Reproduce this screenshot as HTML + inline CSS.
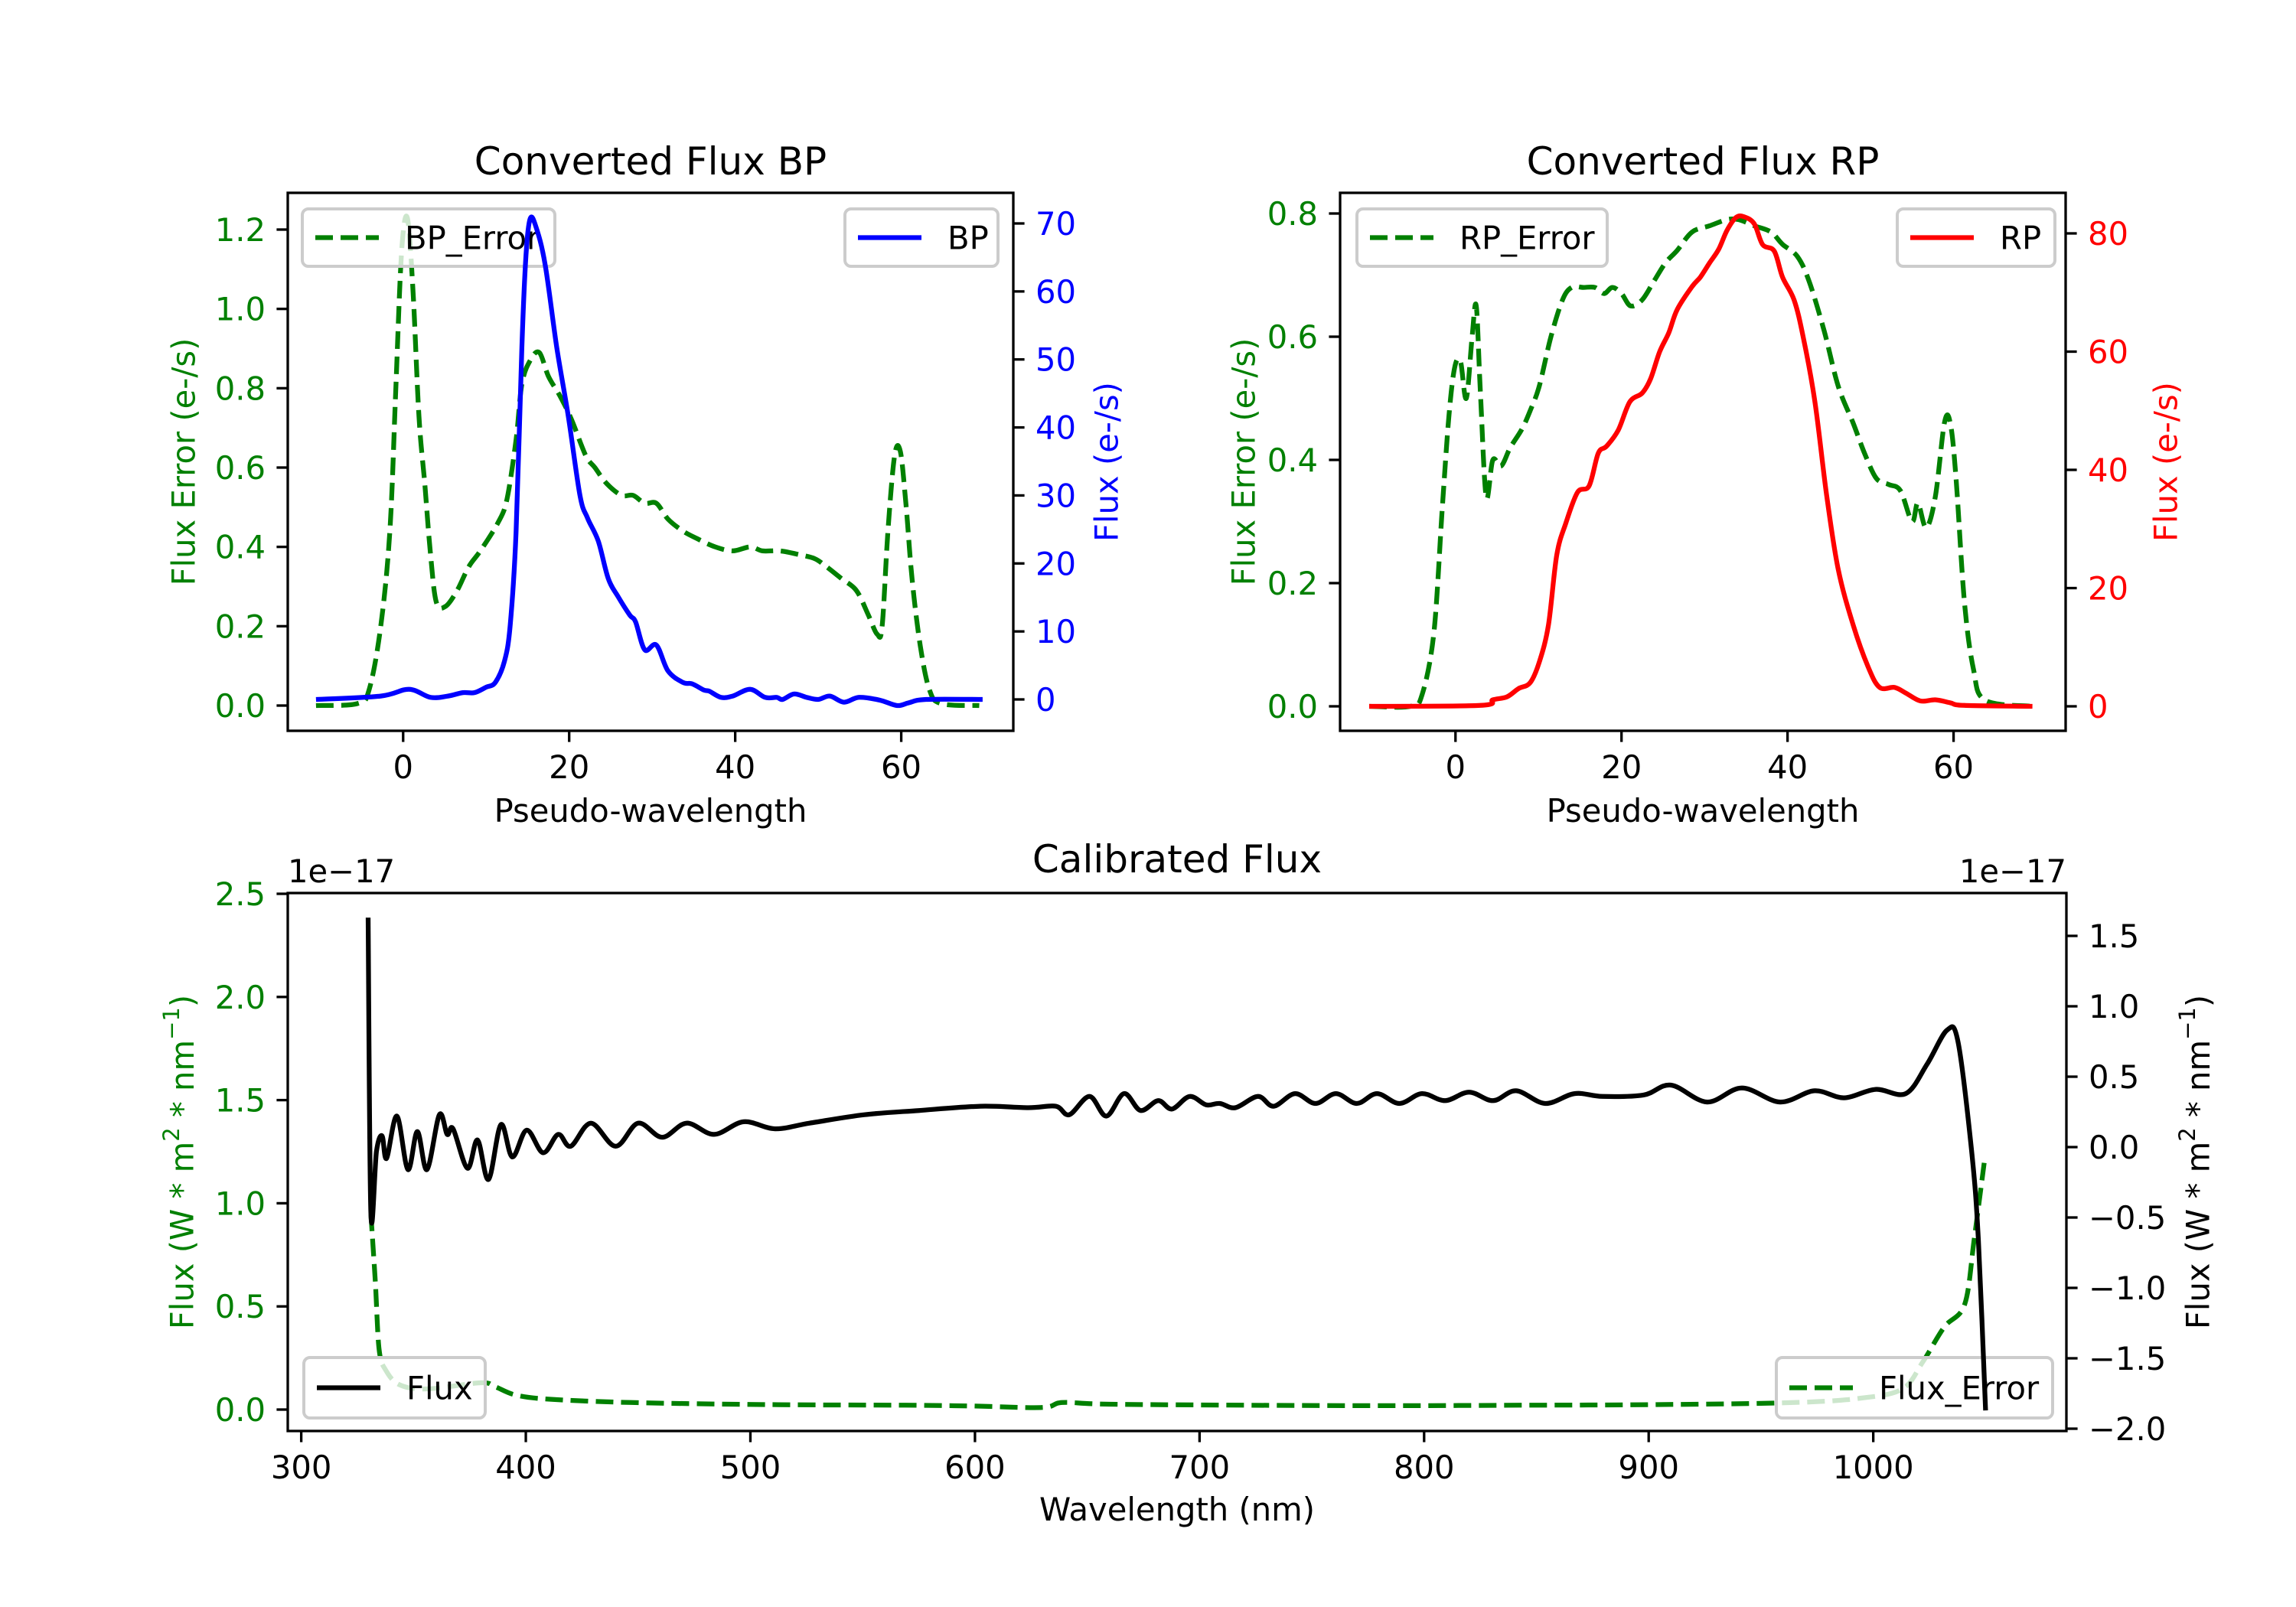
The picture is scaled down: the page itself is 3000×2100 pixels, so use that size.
<!DOCTYPE html>
<html><head><meta charset="utf-8"><style>
html,body{margin:0;padding:0;background:#fff;}
svg{display:block;font-family:"DejaVu Sans","Liberation Sans",sans-serif;}
</style></head><body>
<svg id="fig" width="3000" height="2100" viewBox="0 0 3000 2100" xmlns="http://www.w3.org/2000/svg">
<rect width="3000" height="2100" fill="#fff"/>
</svg>
<script>
// ---- BP data ----
const bpX = [-10.5,-2.7,0.7,3.3,5.4,7.2,8.6,10,11.1,12.2,12.9,13.6,14.3,14.8,15.3,16,17.1,18.5,19.9,21.3,22.2,23.5,24.7,25.9,27.3,28,29.1,30.5,31.9,33.7,34.8,36.2,36.9,38.3,39.7,41.8,43.6,45,45.7,47.1,48.6,50,51.4,53.1,54.9,57.4,59.5,60.9,63,69.8];
const bpFlux = [0,0.5,1.5,0.3,0.5,1,1,1.8,2.5,5.6,11,24.6,51.8,65.4,70.7,69.5,64,51.8,41.6,30,26.7,23.3,17.8,15.1,12.4,11.4,7.3,8,4.2,2.5,2.3,1.4,1.2,0.3,0.5,1.5,0.3,0.3,0,0.8,0.3,0,0.5,-0.4,0.3,-0.1,-0.9,-0.5,0,0];
const bpErrX = [-10.5,-5.5,-4.1,-2.7,-1.6,-0.9,-0.2,0.5,1.2,1.9,2.6,3.3,4,5.1,6.5,7.9,9.3,11.4,12.5,13.6,14.3,15.3,16.4,17.5,18.9,20.3,22,23.1,24.5,26.3,27.7,29.1,30.5,31.9,33.7,35.5,37.6,39.7,41.8,43.3,45.4,47.8,49.6,51,52.8,54.6,56,57.1,57.7,58.4,59.2,59.9,60.6,61.3,62.3,63.4,64.8,69.4];
const bpErr = [0,0.005,0.04,0.2,0.44,0.79,1.14,1.23,1.04,0.73,0.56,0.38,0.26,0.25,0.29,0.35,0.39,0.46,0.52,0.67,0.81,0.87,0.89,0.83,0.78,0.72,0.63,0.6,0.56,0.53,0.53,0.51,0.51,0.47,0.44,0.42,0.4,0.39,0.40,0.39,0.39,0.38,0.37,0.35,0.32,0.29,0.23,0.18,0.2,0.44,0.63,0.64,0.5,0.32,0.15,0.04,0.005,0];
// ---- RP data ----
const rpX = [-10.4,3,4.5,6.2,7.6,9,10.1,11.2,12.2,13.3,14.7,16.1,17.2,18.2,19.6,21,22.5,23.5,24.6,25.7,26.7,28.5,29.5,30.6,31.7,32.7,33.8,34.8,36,37,38.4,39.4,40.8,41.9,43.3,44.7,46.1,47.9,49.7,51.1,52.9,54.3,56,57.8,59.6,61.3,69.5];
const rpFlux = [0,0.15,1.1,1.6,3,4,7.5,13.8,25.6,31,36.2,37.3,42.8,44,46.7,51.5,53,55.4,60,63.2,67.1,71,72.6,75,77.3,80.5,82.7,82.8,81.6,78.1,77,72.6,68.7,62.4,51.5,35.8,23.2,13.8,6.7,3.2,3.2,2.2,0.9,1.1,0.6,0.15,0];
const rpErrX = [-10.4,-5.4,-4,-2.6,-1.6,-0.8,-0.1,0.6,1.3,2,2.5,3,3.7,4.5,5.5,6.6,8,9,10.1,11.5,12.9,14,15.4,16.8,17.9,18.9,20,21.1,22.5,23.9,25.3,26.7,28.5,30.6,32.7,34.1,36,38,39.4,41.2,42.6,44.4,46.1,47.9,49.3,50.7,52.2,53.6,55,55.7,56.7,57.8,58.9,59.6,60.3,61.3,62.4,63.8,69.5];
const rpErr = [0,0,0.02,0.12,0.32,0.47,0.55,0.56,0.5,0.6,0.65,0.51,0.34,0.4,0.39,0.42,0.45,0.48,0.52,0.6,0.66,0.68,0.68,0.68,0.67,0.68,0.67,0.65,0.66,0.69,0.72,0.74,0.77,0.78,0.79,0.79,0.78,0.77,0.75,0.73,0.69,0.61,0.52,0.46,0.41,0.37,0.36,0.35,0.3,0.33,0.29,0.34,0.46,0.46,0.37,0.17,0.06,0.01,0];
// ---- Calibrated data (units 1e-17) ----
const calX = [329.8,331,333.5,336,338,342.6,347.5,351.7,356,361.5,365,367.6,374,378.5,383.4,388.9,394,400.4,407.7,414.4,420,429,440,450,460.7,471.6,483.8,497,511,526.4,550.8,575,602.5,623.8,636,642,651,658.5,666.4,673.7,681.6,687.7,695.6,703,709,716,726,733,742.5,751.6,760.7,770,779,789,799,809.4,820,830.7,841,853.9,867,879.4,897.7,909.9,926,941.5,958.5,973.8,987,1001,1014.5,1024,1032.8,1037.7,1043.8,1046.8,1050];
const calFlux = [1.63,-0.47,-0.03,0.08,-0.08,0.22,-0.16,0.11,-0.16,0.23,0.09,0.13,-0.15,0.05,-0.23,0.16,-0.07,0.12,-0.04,0.09,0.006,0.17,0.006,0.17,0.07,0.17,0.09,0.18,0.13,0.17,0.23,0.26,0.29,0.28,0.29,0.23,0.36,0.22,0.38,0.26,0.33,0.27,0.36,0.3,0.31,0.28,0.36,0.29,0.38,0.31,0.38,0.31,0.38,0.31,0.38,0.33,0.39,0.33,0.4,0.31,0.38,0.36,0.37,0.44,0.32,0.42,0.32,0.4,0.35,0.41,0.38,0.59,0.83,0.75,-0.03,-0.66,-1.87];
const calErrX = [331,333,334.7,337.7,343.8,356,380,386.4,395.6,410.8,447,508,569,599.5,629.9,639,660,721,782,843,903.8,964.6,995,1013,1022,1031.6,1040.7,1045,1049.8];
const calErr = [0.95,0.62,0.29,0.19,0.12,0.1,0.13,0.11,0.07,0.05,0.034,0.024,0.021,0.017,0.01,0.034,0.026,0.021,0.019,0.021,0.024,0.034,0.056,0.1,0.23,0.4,0.51,0.83,1.23];
// ---- tick labels ----
const pseudoTicks = [0,20,40,60];
const bpErrTicks = [0.0,0.2,0.4,0.6,0.8,1.0,1.2];
const bpFluxTicks = [0,10,20,30,40,50,60,70];
const rpErrTicks = [0.0,0.2,0.4,0.6,0.8];
const rpFluxTicks = [0,20,40,60,80];
const wlTicks = [300,400,500,600,700,800,900,1000];
const calErrTicks = [0.0,0.5,1.0,1.5,2.0,2.5];
const calFluxTicks = [-2.0,-1.5,-1.0,-0.5,0.0,0.5,1.0,1.5];

const NS = "http://www.w3.org/2000/svg";
const svg = document.getElementById('fig');
const FS = 41.7, TICK = 14.6, LW = 6.25;
function el(tag, attrs, parent){
  const e = document.createElementNS(NS, tag);
  for (const k in attrs) e.setAttribute(k, attrs[k]);
  (parent||svg).appendChild(e); return e;
}
function lin(d0,d1,p0,p1){ return v => p0 + (v-d0)*(p1-p0)/(d1-d0); }
function txt(s, x, y, opts, parent){
  const t = el('text', Object.assign({x:x,y:y,'font-size':FS,fill:'#000'}, opts||{}), parent);
  t.textContent = s; return t;
}
let clipId = 0;
function makeClip(L,T,R,B){
  const id = 'c'+(clipId++);
  const cp = el('clipPath',{id:id});
  el('rect',{x:L,y:T,width:R-L,height:B-T},cp);
  return 'url(#'+id+')';
}
function line(xs, ys, sx, sy, color, dashed, clip, name){
  const P = xs.map((x,i)=>[sx(x), sy(ys[i])]);
  let d = 'M'+P[0][0].toFixed(1)+','+P[0][1].toFixed(1);
  for (let i=0;i<P.length-1;i++){
    const p0 = P[Math.max(0,i-1)], p1 = P[i], p2 = P[i+1], p3 = P[Math.min(P.length-1,i+2)];
    const c1x = p1[0]+(p2[0]-p0[0])/6, c1y = p1[1]+(p2[1]-p0[1])/6;
    const c2x = p2[0]-(p3[0]-p1[0])/6, c2y = p2[1]-(p3[1]-p1[1])/6;
    d += 'C'+c1x.toFixed(1)+','+c1y.toFixed(1)+' '+c2x.toFixed(1)+','+c2y.toFixed(1)+' '+p2[0].toFixed(1)+','+p2[1].toFixed(1);
  }
  const p = el('path',{d:d,fill:'none',stroke:color,'stroke-width':LW,'stroke-linejoin':'round','clip-path':clip});
  if (dashed) p.setAttribute('stroke-dasharray','23 10');
  
  
  return p;
}
function fmt(v, dec){ const s = v.toFixed(dec); return s.replace('-', '\u2212'); }
function xTicks(ticks, sx, B, dec, name){
  const g = el('g',{});
  
  
  ticks.forEach(v=>{
    const x = sx(v);
    el('line',{x1:x,x2:x,y1:B,y2:B+TICK,stroke:'#000','stroke-width':3.3},g);
    txt(fmt(v,dec), x, B+62, {'text-anchor':'middle'}, g);
  });
}
function yTicks(ticks, sy, X, side, dec, color, name){
  const g = el('g',{});
  
  
  ticks.forEach(v=>{
    const y = sy(v);
    const x2 = side==='left' ? X-TICK : X+TICK;
    el('line',{x1:X,x2:x2,y1:y,y2:y,stroke:'#000','stroke-width':3.3},g);
    if (side==='left') txt(fmt(v,dec), X-29, y+15, {'text-anchor':'end',fill:color}, g);
    else txt(fmt(v,dec), X+29, y+15, {'text-anchor':'start',fill:color}, g);
  });
}
function frame(L,T,R,B,name){
  const r = el('rect',{x:L,y:T,width:R-L,height:B-T,fill:'none',stroke:'#000','stroke-width':3.3});
  
  
}
function legend(L,T,R,B,label,color,dashed,name){
  const g = el('g',{});
  
  
  el('rect',{x:L,y:T,width:R-L,height:B-T,rx:8,ry:8,fill:'#fff','fill-opacity':0.8,stroke:'#cccccc','stroke-width':4},g);
  const cy = (T+B)/2;
  const ln = el('line',{x1:L+17,x2:L+100,y1:cy,y2:cy,stroke:color,'stroke-width':LW},g);
  if (dashed) ln.setAttribute('stroke-dasharray','23 10');
  txt(label, L+134, cy+15, {}, g);
}
function vlabel(s, x, y, color, name){
  const t = txt(s, x, y, {'text-anchor':'middle','dominant-baseline':'central',fill:color,transform:'rotate(-90 '+x+' '+y+')'});
  
  
  return t;
}
function mathLabel(x, y, color, name){
  const t = el('text',{x:x,y:y,'font-size':FS,'text-anchor':'middle','dominant-baseline':'central',fill:color,transform:'rotate(-90 '+x+' '+y+')'});
  
  
  t.appendChild(document.createTextNode('Flux (W * m'));
  const s1 = el('tspan',{'font-size':29,dy:-14},t); s1.textContent='2';
  const s2 = el('tspan',{dy:14},t); s2.textContent=' * nm';
  const s3 = el('tspan',{'font-size':29,dy:-14},t); s3.textContent='\u22121';
  const s4 = el('tspan',{dy:14},t); s4.textContent=')';
}

// ===== BP panel =====
(function(){
  const L=376,T=252,R=1324,B=955;
  const sx = lin(-13.9,73.5,L,R);
  const sy1 = lin(0,1.2,922,300);
  const sy2 = lin(0,70,914,292);
  const clip = makeClip(L,T,R,B);
  line(bpErrX,bpErr,sx,sy1,'#008000',true,clip,'bp-error-line');
  legend(395,273,725,348,'BP_Error','#008000',true,'bp-error-legend');
  line(bpX,bpFlux,sx,sy2,'#0000ff',false,clip,'bp-flux-line');
  legend(1104,273,1304,348,'BP','#0000ff',false,'bp-legend');
  frame(L,T,R,B,'bp-axes-frame');
  xTicks(pseudoTicks,sx,B,0,'bp-x-ticks');
  yTicks(bpErrTicks,sy1,L,'left',1,'#008000','bp-left-ticks');
  yTicks(bpFluxTicks,sy2,R,'right',0,'#0000ff','bp-right-ticks');
  const t = txt('Converted Flux BP',(L+R)/2,228,{'text-anchor':'middle','font-size':50});
   
  const xl = txt('Pseudo-wavelength',(L+R)/2,1074,{'text-anchor':'middle'});
   
  vlabel('Flux Error (e-/s)',240,(T+B)/2,'#008000','bp-left-axis-title');
  vlabel('Flux (e-/s)',1446,(T+B)/2,'#0000ff','bp-right-axis-title');
})();

// ===== RP panel =====
(function(){
  const L=1751,T=252,R=2699,B=955;
  const sx = lin(-13.9,73.5,L,R);
  const sy1 = lin(0,0.8,923,279);
  const sy2 = lin(0,80,923,305);
  const clip = makeClip(L,T,R,B);
  line(rpErrX,rpErr,sx,sy1,'#008000',true,clip,'rp-error-line');
  legend(1773,273,2100,348,'RP_Error','#008000',true,'rp-error-legend');
  line(rpX,rpFlux,sx,sy2,'#ff0000',false,clip,'rp-flux-line');
  legend(2479,273,2685,348,'RP','#ff0000',false,'rp-legend');
  frame(L,T,R,B,'rp-axes-frame');
  xTicks(pseudoTicks,sx,B,0,'rp-x-ticks');
  yTicks(rpErrTicks,sy1,L,'left',1,'#008000','rp-left-ticks');
  yTicks(rpFluxTicks,sy2,R,'right',0,'#ff0000','rp-right-ticks');
  const t = txt('Converted Flux RP',(L+R)/2,228,{'text-anchor':'middle','font-size':50});
   
  const xl = txt('Pseudo-wavelength',(L+R)/2,1074,{'text-anchor':'middle'});
   
  vlabel('Flux Error (e-/s)',1625,(T+B)/2,'#008000','rp-left-axis-title');
  vlabel('Flux (e-/s)',2830,(T+B)/2,'#ff0000','rp-right-axis-title');
})();

// ===== Calibrated panel =====
(function(){
  const L=376,T=1167,R=2700,B=1870;
  const sx = lin(294,1086,L,R);
  const sy1 = lin(0,2.5,1842,1168);
  const sy2 = lin(0,1.5,1499,1223);
  const clip = makeClip(L,T,R,B);
  line(calErrX,calErr,sx,sy1,'#008000',true,clip,'calibrated-error-line');
  legend(2321,1774,2682,1853,'Flux_Error','#008000',true,'flux-error-legend');
  line(calX,calFlux,sx,sy2,'#000000',false,clip,'calibrated-flux-line');
  legend(397,1774,634,1853,'Flux','#000000',false,'flux-legend');
  frame(L,T,R,B,'calibrated-axes-frame');
  xTicks(wlTicks,sx,B,0,'calibrated-x-ticks');
  yTicks(calErrTicks,sy1,L,'left',1,'#008000','calibrated-left-ticks');
  yTicks(calFluxTicks,sy2,R,'right',1,'#000000','calibrated-right-ticks');
  const t = txt('Calibrated Flux',(L+R)/2,1140,{'text-anchor':'middle','font-size':50});
   
  const o1 = txt('1e\u221217',L,1153,{});
   
  const o2 = txt('1e\u221217',R,1153,{'text-anchor':'end'});
   
  const xl = txt('Wavelength (nm)',(L+R)/2,1987,{'text-anchor':'middle'});
   
  mathLabel(238,(T+B)/2,'#008000','calibrated-left-axis-title');
  mathLabel(2872,(T+B)/2,'#000000','calibrated-right-axis-title');
})();
</script>
</body></html>
